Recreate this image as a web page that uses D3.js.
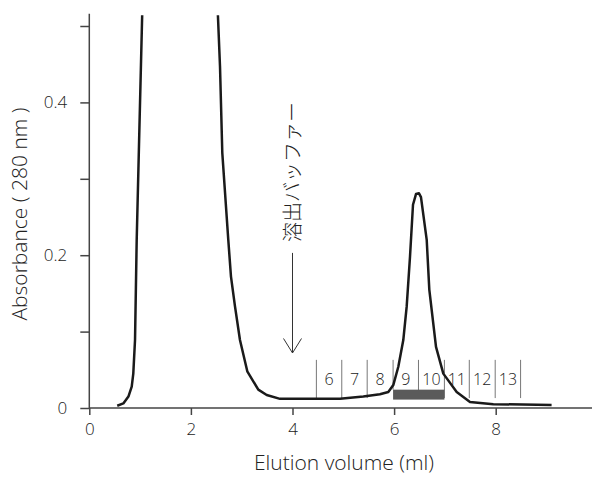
<!DOCTYPE html>
<html>
<head>
<meta charset="utf-8">
<script src="https://cdn.jsdelivr.net/npm/d3@7"></script>
<style>
  body { margin: 0; background: #fff; }
  svg { display: block; }
  text { font-family: "Open Sans", "Noto Sans", sans-serif; font-weight: 300; fill: #222; }
</style>
</head>
<body>
<div id="chart"></div>
<script>
// elution profile (ml, A280)
const volume = [0.55, 0.67, 0.77, 0.835, 0.866, 0.90, 0.933, 0.984, 1.043,
    2.528, 2.573, 2.618, 2.736, 2.789, 2.868, 2.966, 3.11, 3.327, 3.492, 3.754,
    4.935, 5.394, 5.72, 5.886, 5.984, 6.083, 6.181, 6.248, 6.313, 6.372, 6.431,
    6.49, 6.529, 6.642, 6.693, 6.825, 6.969, 7.232, 7.494, 7.953, 9.10];
const absorbance = [0.003, 0.006, 0.015, 0.028, 0.045, 0.089, 0.22, 0.36, 0.52,
    0.52, 0.447, 0.334, 0.22, 0.172, 0.133, 0.089, 0.048, 0.024, 0.017, 0.012,
    0.012, 0.015, 0.018, 0.021, 0.03, 0.054, 0.089, 0.133, 0.198, 0.266, 0.28,
    0.281, 0.276, 0.22, 0.155, 0.08, 0.045, 0.021, 0.008, 0.005, 0.004];

const xTicks = [0, 2, 4, 6, 8];
const yTicks = [0, 0.1, 0.2, 0.3, 0.4, 0.5];
const yLabels = {0: "0", 0.2: "0.2", 0.4: "0.4"};

// fraction boundaries (ml) and fraction numbers
const fractionEdges = [4.47, 4.97, 5.47, 5.98, 6.48, 6.99, 7.48, 7.99, 8.49];
const fractionNames = ["6", "7", "8", "9", "10", "11", "12", "13"];
const pooled = [5.98, 6.99];   // fractions 9-10

const bufferLabel = "溶出バッファー";
const bufferAt = 4.0;

const width = 592, height = 477;

const svg = d3.select("#chart").append("svg")
    .attr("width", width)
    .attr("height", height);

const x = d3.scaleLinear().domain([0, 8]).range([89.3, 495.7]);
const y = d3.scaleLinear().domain([0, 0.5]).range([408, 26]);

// axes
const yAxis = d3.axisLeft(y)
    .tickValues(yTicks)
    .tickSize(9)
    .tickPadding(13)
    .tickFormat(d => yLabels[d] || "");
const gy = svg.append("g")
    .attr("transform", `translate(${x(0)},0)`)
    .call(yAxis);
gy.select(".domain").remove();
gy.selectAll(".tick line").attr("stroke", "#444").attr("stroke-width", 1.5);
gy.selectAll(".tick text").style("font-size", "17px").attr("fill", "#222");

const xAxis = d3.axisBottom(x)
    .tickValues(xTicks)
    .tickSize(7)
    .tickPadding(8)
    .tickFormat(d3.format("d"));
const gx = svg.append("g")
    .attr("transform", `translate(0,${y(0)})`)
    .call(xAxis);
gx.select(".domain").remove();
gx.selectAll(".tick line").attr("stroke", "#444").attr("stroke-width", 1.5);
gx.selectAll(".tick text").style("font-size", "17px").attr("fill", "#222");

svg.append("line")
    .attr("x1", x(0)).attr("x2", x(0))
    .attr("y1", y(0)).attr("y2", y(0.516))
    .attr("stroke", "#444").attr("stroke-width", 1.5);
svg.append("line")
    .attr("x1", x(0)).attr("x2", width)
    .attr("y1", y(0)).attr("y2", y(0))
    .attr("stroke", "#444").attr("stroke-width", 1.5);

// axis titles
svg.append("text")
    .attr("x", 344).attr("y", 470)
    .attr("text-anchor", "middle")
    .style("font-size", "21px")
    .text("Elution volume (ml)");
svg.append("text")
    .attr("transform", "translate(27,214) rotate(-90)")
    .attr("text-anchor", "middle")
    .style("font-size", "21px")
    .text("Absorbance ( 280 nm )");

// fractions
svg.selectAll(".frac")
    .data(fractionEdges)
    .join("line")
    .attr("class", "frac")
    .attr("x1", d => x(d)).attr("x2", d => x(d))
    .attr("y1", y(0.063))
    .attr("y2", d => d === pooled[0] ? y(0.024) : y(0.013))
    .attr("stroke", "#777").attr("stroke-width", 1);

svg.selectAll(".fracLabel")
    .data(fractionNames)
    .join("text")
    .attr("class", "fracLabel")
    .attr("x", (d, i) => (x(fractionEdges[i]) + x(fractionEdges[i + 1])) / 2)
    .attr("y", y(0.038))
    .attr("text-anchor", "middle")
    .attr("dominant-baseline", "central")
    .style("font-size", "16px")
    .text(d => d);

svg.append("rect")
    .attr("x", x(pooled[0]))
    .attr("width", x(pooled[1]) - x(pooled[0]))
    .attr("y", y(0.024))
    .attr("height", y(0.011) - y(0.024))
    .attr("fill", "#5a5a5a");

// elution buffer arrow
svg.append("line")
    .attr("x1", x(bufferAt)).attr("x2", x(bufferAt))
    .attr("y1", y(0.203)).attr("y2", y(0.072))
    .attr("stroke", "#333").attr("stroke-width", 1);
svg.append("path")
    .attr("d", `M${x(bufferAt) - 9},${y(0.072) - 14.5} L${x(bufferAt)},${y(0.072)} L${x(bufferAt) + 9},${y(0.072) - 14.5}`)
    .attr("fill", "none")
    .attr("stroke", "#333").attr("stroke-width", 1);
svg.append("text")
    .attr("transform", `translate(${x(bufferAt) - 1},${y(0.309)}) rotate(-90)`)
    .attr("text-anchor", "middle")
    .attr("dominant-baseline", "central")
    .style("font-family", "'Noto Sans CJK JP', sans-serif")
    .style("font-size", "20px")
    .style("font-weight", 300)
    .text(bufferLabel);

// curve, clipped at the top of the frame
svg.append("clipPath").attr("id", "clip")
    .append("rect")
    .attr("x", 0).attr("y", y(0.514))
    .attr("width", width).attr("height", height);

const points = volume.map((v, i) => [v, absorbance[i]]);
const line = d3.line()
    .x(d => x(d[0]))
    .y(d => y(d[1]));

svg.append("path")
    .datum(points)
    .attr("clip-path", "url(#clip)")
    .attr("d", line)
    .attr("fill", "none")
    .attr("stroke", "#1a1a1a")
    .attr("stroke-width", 2.5)
    .attr("stroke-linejoin", "round");
</script>
</body>
</html>
